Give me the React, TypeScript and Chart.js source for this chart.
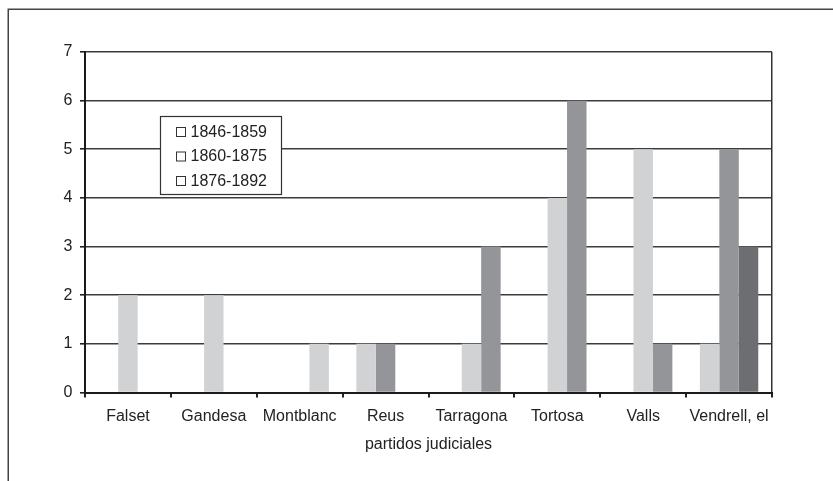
import React, { useEffect, useRef } from "react";
import { Chart, registerables } from "chart.js";

Chart.register(...registerables);

const categories = ["Falset", "Gandesa", "Montblanc", "Reus", "Tarragona", "Tortosa", "Valls", "Vendrell, el"];
const seriesLabels = ["1846-1859", "1860-1875", "1876-1892"];
const values1846 = [0, 0, 0, 1, 0, 0, 0, 1];
const values1860 = [2, 2, 0, 1, 1, 4, 5, 5];
const values1876 = [0, 0, 1, 0, 3, 6, 1, 3];
const yTicks = [0, 1, 2, 3, 4, 5, 6, 7];
const axisTitle = "partidos judiciales";

const LIGHT = "#d1d2d4";
const MID = "#939598";
const DARK = "#6d6e71";
const colors1846 = [LIGHT, LIGHT, LIGHT, LIGHT, LIGHT, LIGHT, LIGHT, LIGHT];
const colors1860 = [LIGHT, LIGHT, LIGHT, MID, LIGHT, LIGHT, LIGHT, MID];
const colors1876 = [LIGHT, LIGHT, LIGHT, LIGHT, MID, MID, MID, DARK];

const FONT = "'Liberation Sans', Arial, sans-serif";
const TEXT = "#222222";

const decorPlugin = {
  id: "decor",
  beforeDraw(chart: any) {
    const ctx = chart.ctx;
    ctx.save();
    ctx.fillStyle = "#ffffff";
    ctx.fillRect(0, 0, chart.width, chart.height);
    ctx.strokeStyle = "#444444";
    ctx.lineWidth = 1.5;
    ctx.beginPath();
    ctx.moveTo(8.25, chart.height + 5);
    ctx.lineTo(8.25, 9.25);
    ctx.lineTo(chart.width + 5, 9.25);
    ctx.stroke();
    ctx.restore();
  },
  afterDatasetsDraw(chart: any) {
    const ctx = chart.ctx;
    const a = chart.chartArea;
    ctx.save();
    ctx.strokeStyle = "#333333";
    ctx.lineWidth = 1.5;
    ctx.beginPath();
    ctx.moveTo(Math.round(a.right) - 0.25, a.top);
    ctx.lineTo(Math.round(a.right) - 0.25, a.bottom);
    ctx.stroke();
    ctx.restore();
  },
  afterDraw(chart: any) {
    const ctx = chart.ctx;
    ctx.save();
    const bx = 160.5, by = 116.5, bw = 121, bh = 78;
    ctx.fillStyle = "#ffffff";
    ctx.fillRect(bx, by, bw, bh);
    ctx.strokeStyle = "#333333";
    ctx.lineWidth = 1.2;
    ctx.strokeRect(bx, by, bw, bh);
    ctx.font = `16px ${FONT}`;
    ctx.textBaseline = "alphabetic";
    ctx.textAlign = "left";
    chart.data.datasets.forEach((ds: any, i: number) => {
      const baseY = 136.5 + i * 24.5;
      ctx.fillStyle = "#ffffff";
      ctx.fillRect(176.5, baseY - 9, 9, 9);
      ctx.strokeStyle = "#333333";
      ctx.lineWidth = 1;
      ctx.strokeRect(176.5, baseY - 9, 9, 9);
      ctx.fillStyle = TEXT;
      ctx.fillText(ds.label, 190.5, baseY);
    });
    ctx.restore();
  },
};

export default function App() {
  const ref = useRef<HTMLCanvasElement | null>(null);

  useEffect(() => {
    if (!ref.current) return;
    const chart = new Chart(ref.current, {
      type: "bar",
      data: {
        labels: categories,
        datasets: [
          { label: seriesLabels[0], data: values1846, backgroundColor: colors1846, borderWidth: 0 },
          { label: seriesLabels[1], data: values1860, backgroundColor: colors1860, borderWidth: 0 },
          { label: seriesLabels[2], data: values1876, backgroundColor: colors1876, borderWidth: 0 },
        ],
      },
      options: {
        animation: false,
        responsive: false,
        events: [],
        layout: { padding: { left: 0, top: 52, right: 61, bottom: 0 } },
        datasets: { bar: { categoryPercentage: 0.68, barPercentage: 1 } },
        plugins: { legend: { display: false }, tooltip: { enabled: false }, title: { display: false } },
        scales: {
          x: {
            afterFit: (s: any) => { s.height = 88.5; },
            grid: { drawOnChartArea: false, drawTicks: true, tickLength: 5, tickColor: "#222222", lineWidth: 2 },
            border: { display: true, color: "#1a1a1a", width: 2, z: 1 },
            ticks: { color: TEXT, font: { family: FONT, size: 16 }, padding: 9, maxRotation: 0, autoSkip: false },
            title: { display: true, text: axisTitle, color: TEXT, font: { family: FONT, size: 16 }, padding: { top: 0, bottom: 27 } },
          },
          y: {
            min: 0,
            max: 7,
            afterFit: (s: any) => { s.width = 85; },
            afterBuildTicks: (s: any) => { s.ticks = yTicks.map((v) => ({ value: v })); },
            grid: { color: "#3c3c3c", lineWidth: 1.6, drawTicks: true, tickLength: 5, tickColor: "#222222" },
            border: { display: true, color: "#1a1a1a", width: 2, z: 1 },
            ticks: { color: TEXT, font: { family: FONT, size: 16 }, padding: 7.5, stepSize: 1 },
          },
        },
      },
      plugins: [decorPlugin],
    });
    return () => chart.destroy();
  }, []);

  return (
    <div style={{ position: "fixed", left: 0, top: 0, width: 833, height: 481 }}>
      <canvas ref={ref} width={833} height={481} style={{ display: "block", width: 833, height: 481 }} />
    </div>
  );
}
